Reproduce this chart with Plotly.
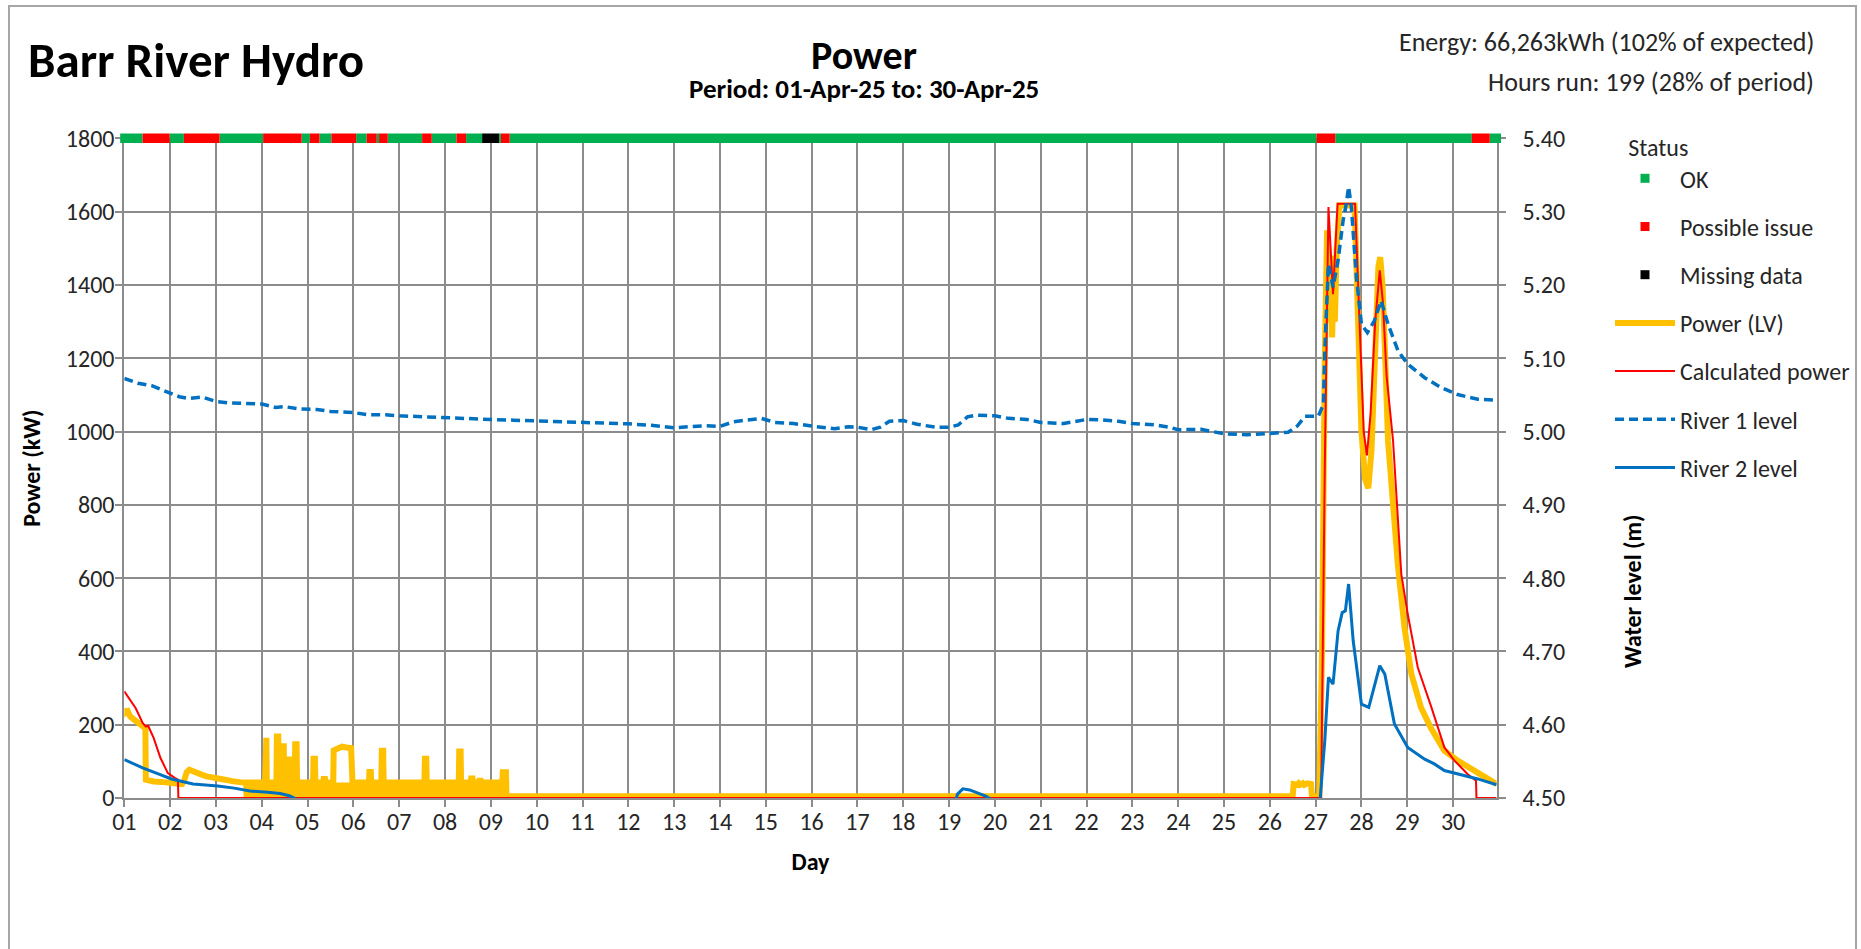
import plotly.graph_objects as go

# ---------------- data ----------------
day_ticks = list(range(1, 31))
day_labels = ["01", "02", "03", "04", "05", "06", "07", "08", "09", "10",
              "11", "12", "13", "14", "15", "16", "17", "18", "19", "20",
              "21", "22", "23", "24", "25", "26", "27", "28", "29", "30"]

# Power (LV), kW
power_lv_x = [1.00, 1.03, 1.08, 1.13, 1.20, 1.27, 1.33, 1.40, 1.46, 1.47, 1.55, 1.64, 1.80, 2.03, 2.18, 2.26,
              2.30, 2.36, 2.42, 2.50, 2.57, 2.70, 2.80, 2.95, 3.04, 3.20, 3.35, 3.50, 3.60,
              4.07, 4.08, 4.10, 4.11,
              4.32, 4.33, 4.36, 4.37,
              4.44, 4.45, 4.48, 4.49,
              4.58, 4.59, 4.61, 4.62,
              4.72, 4.73, 4.76, 4.77,
              5.12, 5.13, 5.16, 5.17,
              5.34, 5.35, 5.38, 5.39,
              5.56, 5.57, 5.65, 5.75, 5.85, 5.95, 5.98,
              6.34, 6.35, 6.38, 6.39,
              6.61, 6.62, 6.65, 6.66,
              7.55, 7.56, 7.59, 7.60,
              8.30, 8.31, 8.34, 8.35,
              8.56, 8.57, 8.60, 8.61,
              8.74, 8.75, 8.78, 8.79,
              8.98, 9.00, 9.03,
              9.25, 9.26, 9.33, 9.34,
              26.50, 26.52, 26.60, 26.63, 26.66, 26.72, 26.75, 26.82, 26.90, 26.92,
              27.08, 27.14, 27.20, 27.25, 27.28, 27.31, 27.33, 27.36, 27.39, 27.42, 27.46, 27.52,
              27.85, 27.92, 28.00, 28.08, 28.15, 28.22, 28.30, 28.37, 28.41, 28.46, 28.52, 28.58,
              28.80, 28.94, 29.09, 29.30, 29.52, 29.81, 30.10, 30.39, 30.68, 30.95]
power_lv_y = [245, 232, 236, 222, 215, 208, 203, 196, 190, 50, 47, 45, 44, 41, 40, 38,
              45, 70, 77, 72, 68, 63, 59, 57, 55, 50, 46, 43, 42,
              42, 164, 164, 42,
              42, 168, 168, 42,
              42, 141, 141, 42,
              42, 105, 105, 42,
              42, 147, 147, 42,
              42, 107, 107, 42,
              42, 52, 52, 42,
              42, 130, 135, 140, 138, 136, 42,
              42, 71, 71, 42,
              42, 129, 129, 42,
              42, 107, 107, 42,
              42, 127, 127, 42,
              42, 53, 53, 42,
              42, 47, 47, 42,
              42, 2, 42,
              42, 70, 70, 5,
              5, 38, 36, 40, 36, 40, 36, 40, 38, 5,
              5, 400, 1200, 1549, 1450, 1300, 1480, 1257, 1400, 1300, 1500, 1617,
              1617, 1300, 1000, 870, 845, 950, 1250, 1450, 1476, 1400, 1200, 975,
              629, 465, 338, 247, 190, 129, 102, 79, 56, 38]

# envelope of the rapid on/off cycling of Power (LV) (kW)
power_band_x = [3.60, 9.34]
power_band_top = [42, 42]

# Calculated power, kW
calc_power_x = [1.00, 1.12, 1.25, 1.40, 1.47, 1.52, 1.64, 1.79, 1.95, 2.10, 2.17, 2.18,
                27.12, 27.20, 27.28, 27.38, 27.48, 27.86, 27.95, 28.05, 28.12, 28.20, 28.30,
                28.40, 28.47, 28.55, 28.69, 28.87, 29.01, 29.23, 29.52, 29.81, 30.03, 30.32,
                30.50, 30.51, 30.95]
calc_power_y = [291, 268, 245, 205, 195, 197, 164, 109, 68, 55, 50, 0,
                0, 900, 1613, 1375, 1622, 1622, 1300, 1000, 935, 1050, 1300,
                1440, 1350, 1150, 975, 611, 502, 356, 250, 138, 102, 65,
                47, 0, 0]

# River 1 level, m
river1_x = [1.0, 1.3, 1.6, 1.8, 2.0, 2.2, 2.4, 2.7, 3.0, 3.3, 3.6, 4.0, 4.3, 4.5, 4.8, 5.2, 5.5,
            6.0, 6.3, 6.7, 7.0, 7.5, 8.0, 8.5, 9.0, 9.5, 10.0, 10.5, 11.0, 11.5, 12.0, 12.5,
            13.0, 13.3, 13.7, 14.0, 14.3, 14.7, 14.9, 15.2, 15.6, 16.0, 16.5, 16.8, 17.0,
            17.3, 17.5, 17.7, 18.0, 18.3, 18.7, 19.0, 19.2, 19.4, 19.6, 20.0, 20.3, 20.7,
            21.0, 21.5, 21.8, 22.0, 22.3, 22.7, 23.0, 23.5, 23.8, 24.0, 24.5, 24.8, 25.0,
            25.5, 26.0, 26.4, 26.6, 26.77, 27.06, 27.17, 27.2, 27.28, 27.38, 27.49, 27.6,
            27.67, 27.72, 27.78, 27.89, 28.0, 28.13, 28.28, 28.43, 28.58, 28.8, 29.01,
            29.38, 29.74, 30.1, 30.54, 30.95]
river1_y = [5.0725, 5.066, 5.0625, 5.0575, 5.0525, 5.0475, 5.045, 5.047, 5.041, 5.039, 5.0385,
            5.0375, 5.033, 5.034, 5.031, 5.030, 5.0275, 5.026, 5.023, 5.023, 5.0215, 5.020,
            5.0185, 5.0175, 5.0165, 5.0155, 5.0145, 5.013, 5.012, 5.012, 5.0105, 5.0085,
            5.005, 5.0065, 5.008, 5.007, 5.0135, 5.0165, 5.018, 5.0125, 5.011, 5.0075,
            5.004, 5.0065, 5.006, 5.0025, 5.006, 5.014, 5.015, 5.010, 5.006, 5.006, 5.009,
            5.020, 5.0225, 5.0215, 5.018, 5.0165, 5.0125, 5.011, 5.014, 5.0165, 5.016,
            5.014, 5.011, 5.009, 5.006, 5.0025, 5.003, 4.999, 4.997, 4.9955, 4.998, 4.999,
            5.0075, 5.021, 5.021, 5.037, 5.110, 5.2285, 5.197, 5.2335, 5.288, 5.311, 5.334,
            5.3065, 5.2105, 5.1465, 5.135, 5.151, 5.1785, 5.1465, 5.110, 5.092, 5.0735,
            5.060, 5.0505, 5.044, 5.043]

# River 2 level, m (values below 4.50 fall off the chart)
river2_x = [1.0, 1.4, 1.7, 2.03, 2.5, 3.04, 3.4, 3.74, 4.13, 4.4, 4.6, 4.71, 4.80, 19.10, 19.18,
            19.3, 19.45, 19.6, 19.8, 19.92, 20.0, 27.02, 27.1, 27.2, 27.28, 27.38, 27.49,
            27.58, 27.65, 27.72, 27.82, 28.0, 28.16, 28.4, 28.51, 28.72, 29.01, 29.38, 29.59,
            29.81, 30.25, 30.54, 30.95]
river2_y = [4.5525, 4.541, 4.534, 4.526, 4.519, 4.5165, 4.5135, 4.5095, 4.508, 4.506, 4.503,
            4.500, 4.48, 4.48, 4.505, 4.5125, 4.511, 4.5075, 4.5025, 4.498, 4.48, 4.48, 4.50,
            4.578, 4.6645, 4.6555, 4.728, 4.753, 4.7555, 4.792, 4.7145, 4.628, 4.6235,
            4.6805, 4.669, 4.601, 4.569, 4.553, 4.5465, 4.5375, 4.5305, 4.526, 4.518]

# Status runs (day from, day to, status)
status_start = [0.91, 1.40, 1.99, 2.30, 3.08, 4.03, 4.87, 5.05, 5.26, 5.52, 6.06, 6.29, 6.51, 6.56,
                6.75, 7.50, 7.71, 8.25, 8.46, 8.81, 9.18, 9.22, 9.41, 27.02, 27.43, 30.41, 30.80]
status_end = [1.40, 1.99, 2.30, 3.08, 4.03, 4.87, 5.05, 5.26, 5.52, 6.06, 6.29, 6.51, 6.56, 6.75,
              7.50, 7.71, 8.25, 8.46, 8.81, 9.18, 9.22, 9.41, 27.02, 27.43, 30.41, 30.80, 31.05]
status_code = ["OK", "Possible issue", "OK", "Possible issue", "OK", "Possible issue", "OK",
               "Possible issue", "OK", "Possible issue", "OK", "Possible issue", "OK",
               "Possible issue", "OK", "Possible issue", "OK", "Possible issue", "OK",
               "Missing data", "OK", "Possible issue", "OK", "Possible issue", "OK",
               "Possible issue", "OK"]

status_names = ["OK", "Possible issue", "Missing data"]
status_colors = {"OK": "#00B050", "Possible issue": "#FF0000", "Missing data": "#000000"}

assert len(power_lv_x) == len(power_lv_y)
assert len(calc_power_x) == len(calc_power_y)
assert len(river1_x) == len(river1_y)
assert len(river2_x) == len(river2_y)

# ---------------- geometry ----------------
W, H = 1861, 949
ML, MR, MT, MB = 120, 360, 132, 151
PW = W - ML - MR
PH = H - MT - MB
X0, X1 = 124.3, 1496.7       # plot area left/right (px)
YTOP, YBOT = 138.4, 798.0    # plot area top/bottom (px)
DAY_PX = 45.82


def fx(px):
    return (px - ML) / PW


def fy(py):
    return (H - MB - py) / PH


FONT = "Carlito, Calibri, Lato, sans-serif"
GRID = "#8C8C8C"
TXT = "#262626"

fig = go.Figure()

# legend-only status entries
for i, nm in enumerate(status_names):
    fig.add_trace(go.Scatter(x=[None], y=[None], mode="markers", name=nm,
                             marker=dict(symbol="square", size=9, color=status_colors[nm]),
                             legendgroup=nm, legendrank=i + 1))

# power band (on/off cycling envelope)
fig.add_trace(go.Scatter(x=power_band_x, y=power_band_top, mode="lines", fill="tozeroy",
                         fillcolor="#FFC000", line=dict(width=0, color="#FFC000"),
                         showlegend=False, hoverinfo="skip"))
fig.add_trace(go.Scatter(x=power_lv_x, y=power_lv_y, mode="lines", name="Power (LV)",
                         line=dict(color="#FFC000", width=6), legendgroup="plv", legendrank=4))
fig.add_trace(go.Scatter(x=calc_power_x, y=calc_power_y, mode="lines", name="Calculated power",
                         line=dict(color="#FF0000", width=2), legendgroup="cp", legendrank=5))
fig.add_trace(go.Scatter(x=river1_x, y=river1_y, mode="lines", name="River 1 level", yaxis="y2",
                         line=dict(color="#0070C0", width=3.5, dash="9px,5px"),
                         legendgroup="r1", legendrank=6))
fig.add_trace(go.Scatter(x=river2_x, y=river2_y, mode="lines", name="River 2 level", yaxis="y2",
                         line=dict(color="#0070C0", width=3), legendgroup="r2", legendrank=7))

# status bar (drawn on its own thin strip that straddles the 1800 line)
for nm in status_names:
    xs, ys = [], []
    for s, e, c in zip(status_start, status_end, status_code):
        if c == nm:
            xs += [s, e, None]
            ys += [0.5, 0.5, None]
    fig.add_trace(go.Scatter(x=xs, y=ys, mode="lines", xaxis="x3", yaxis="y3",
                             line=dict(color=status_colors[nm], width=9.5),
                             showlegend=False, hoverinfo="skip"))

xr = [1, 1 + (X1 - X0) / DAY_PX]
x3r = [1 + (ML - X0) / DAY_PX, 1 + (ML + PW - X0) / DAY_PX]

fig.update_layout(
    width=W, height=H,
    margin=dict(l=ML, r=MR, t=MT, b=MB, autoexpand=False),
    paper_bgcolor="white", plot_bgcolor="rgba(0,0,0,0)",
    font=dict(family=FONT, size=24, color=TXT),
    showlegend=True,
    xaxis=dict(domain=[fx(X0), fx(X1)], range=xr, tickvals=day_ticks, ticktext=day_labels,
               showgrid=True, gridcolor=GRID, gridwidth=2, zeroline=False,
               showline=True, linecolor=GRID, linewidth=2,
               ticks="outside", ticklen=7, tickwidth=2, tickcolor=GRID, ticklabelstandoff=-6,
               tickfont=dict(size=24, color=TXT), automargin=False,
               title=dict(text="<b>Day</b>", font=dict(size=24, color="#000000"), standoff=18)),
    yaxis=dict(domain=[0, fy(YTOP)], range=[0, 1800], dtick=200, tick0=0,
               showgrid=True, gridcolor=GRID, gridwidth=2, zeroline=False,
               showline=True, linecolor=GRID, linewidth=2,
               ticks="outside", ticklen=7, tickwidth=2, tickcolor=GRID, ticklabelstandoff=-4,
               tickfont=dict(size=24, color=TXT), automargin=False,
               title=dict(text="<b>Power (kW)</b>", font=dict(size=24, color="#000000"), standoff=18)),
    yaxis2=dict(overlaying="y", side="right", anchor="x", range=[4.5, 5.4], dtick=0.1, tick0=4.5,
                tickformat=".2f", showgrid=False, zeroline=False,
                showline=True, linecolor=GRID, linewidth=2,
                ticks="outside", ticklen=7, tickwidth=2, tickcolor=GRID, ticklabelstandoff=12,
                tickfont=dict(size=24, color=TXT), automargin=False),
    xaxis3=dict(domain=[0, 1], range=x3r, visible=False, anchor="y3", fixedrange=True),
    yaxis3=dict(domain=[fy(144.4), 1], range=[0, 1], visible=False, anchor="x3", fixedrange=True),
    legend=dict(x=fx(1610), y=fy(125), xanchor="left", yanchor="top",
                font=dict(size=24, color=TXT), bgcolor="rgba(0,0,0,0)",
                title=dict(text="\u00a0\u00a0\u00a0Status", font=dict(size=24, color=TXT)),
                traceorder="grouped", tracegroupgap=14, itemwidth=60),
    annotations=[
        dict(text="<b>Barr River Hydro</b>", x=fx(26), y=fy(60), xref="paper", yref="paper",
             xanchor="left", yanchor="middle", showarrow=False, font=dict(size=49, color="#000000")),
        dict(text="<b>Power</b>", x=fx(864), y=fy(55), xref="paper", yref="paper",
             xanchor="center", yanchor="middle", showarrow=False, height=38,
             font=dict(size=40, color="#000000")),
        dict(text="<b>Period: 01-Apr-25 to: 30-Apr-25</b>", x=fx(864), y=fy(88), xref="paper",
             yref="paper", xanchor="center", yanchor="middle", showarrow=False, height=28,
             font=dict(size=27, color="#000000")),
        dict(text="Energy: 66,263kWh (102% of expected)", x=fx(1816), y=fy(41.5), xref="paper",
             yref="paper", xanchor="right", yanchor="middle", showarrow=False,
             font=dict(size=26, color=TXT)),
        dict(text="Hours run: 199 (28% of period)", x=fx(1816), y=fy(82), xref="paper",
             yref="paper", xanchor="right", yanchor="middle", showarrow=False,
             font=dict(size=26, color=TXT)),
        dict(text="<b>Water level (m)</b>", x=fx(1632), y=fy(592), xref="paper", yref="paper",
             xanchor="center", yanchor="middle", textangle=-90, showarrow=False,
             font=dict(size=24, color="#000000")),
    ],
    shapes=[
        dict(type="rect", xref="paper", yref="paper", x0=fx(9), x1=fx(1856), y0=fy(975), y1=fy(6),
             line=dict(color="#A6A6A6", width=2), fillcolor="rgba(0,0,0,0)", layer="below"),
    ],
)

fig.write_html("out.html", config={"displayModeBar": False},
               post_script="document.body.style.margin='0px';document.body.style.padding='0px';")
